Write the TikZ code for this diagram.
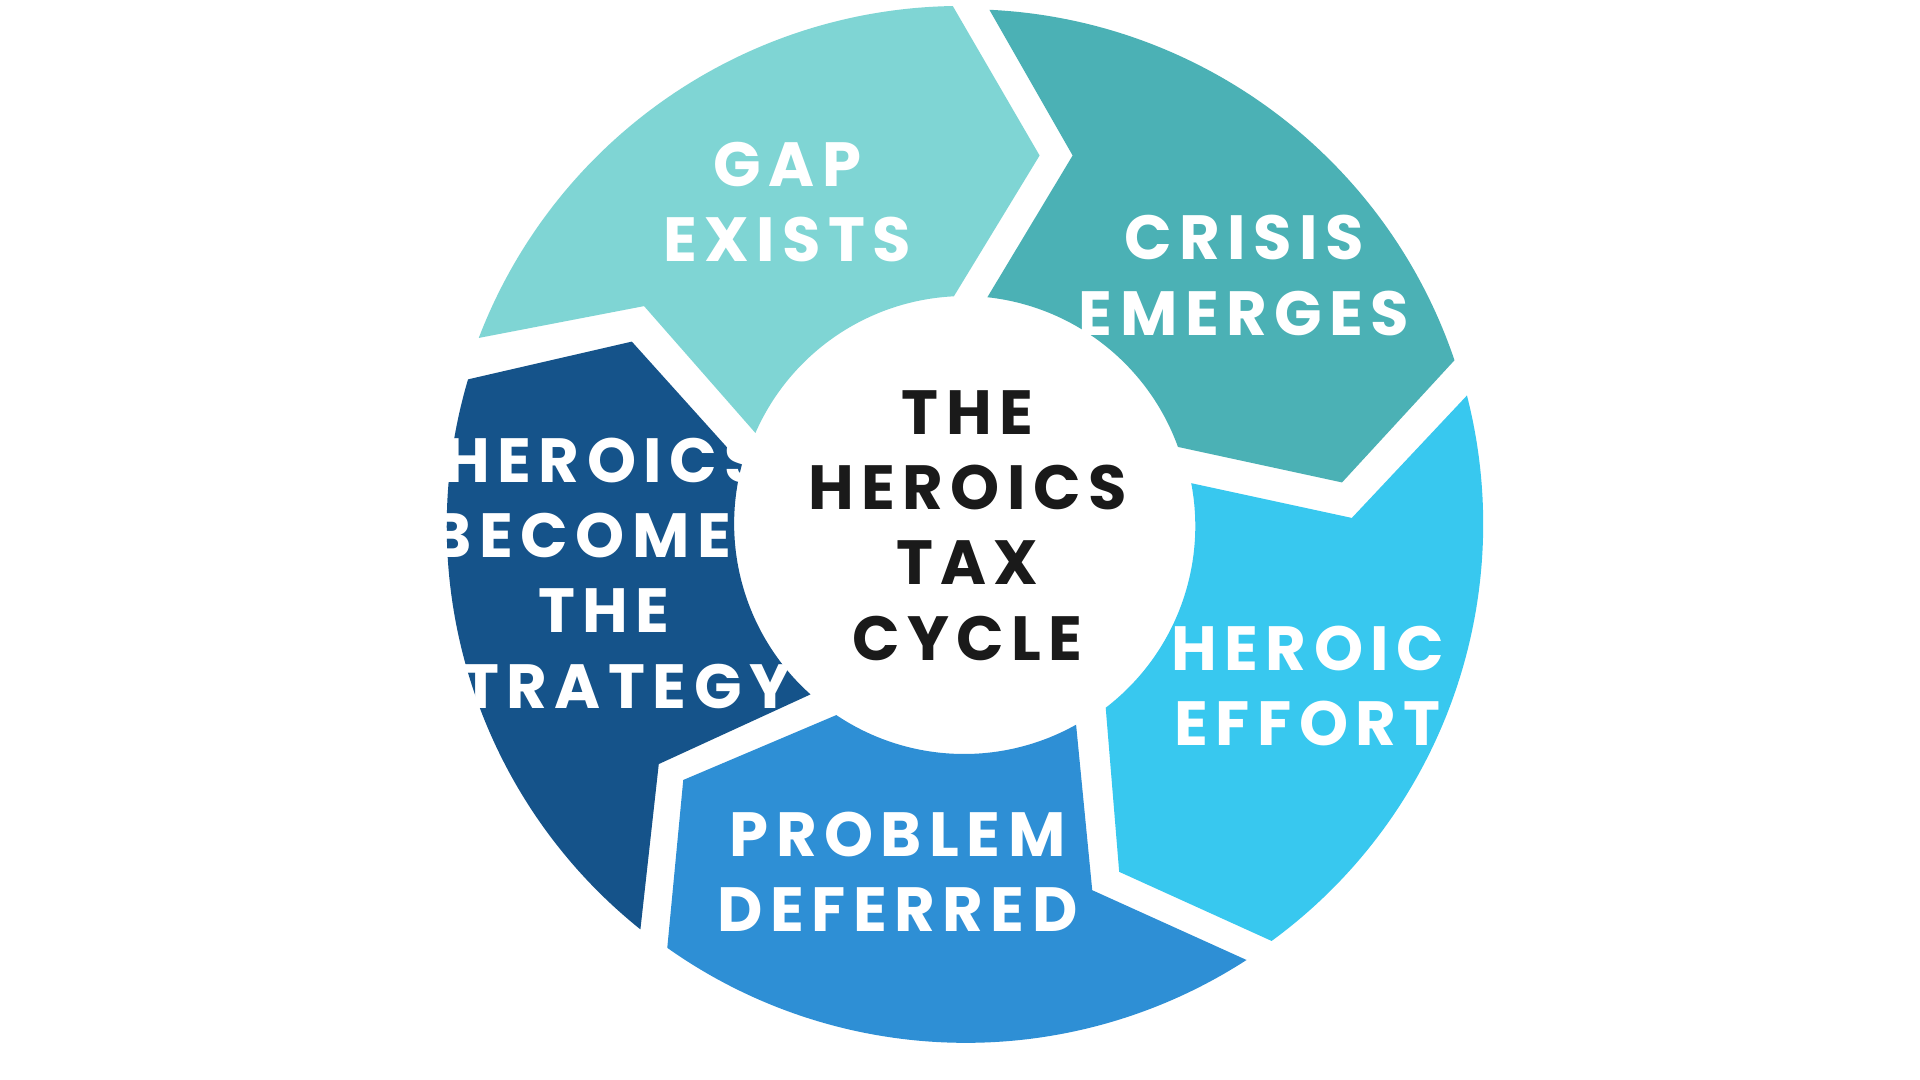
\documentclass[tikz,border=0pt]{standalone}
\usepackage{fontspec}
\setmainfont{Poppins}[UprightFont=* Bold, LetterSpace=12]
\definecolor{cA}{HTML}{7FD5D4}
\definecolor{cB}{HTML}{4BB1B5}
\definecolor{cC}{HTML}{38C8EF}
\definecolor{cD}{HTML}{2E8FD5}
\definecolor{cE}{HTML}{15538A}
\definecolor{ink}{HTML}{1A1A1A}
\begin{document}
\begin{tikzpicture}[x=0.01cm,y=0.01cm,
  lbl/.style={text=white,align=center,font=\fontsize{14.5}{17.5}\selectfont},
  ctr/.style={text=ink,align=center,font=\fontsize{14.5}{17.5}\selectfont}]
\useasboundingbox (0,0) rectangle (1568,882);
\fill[white] (0,0) rectangle (1568,882);
% y_up = 882 - y
\fill[cA] (391,606) arc[start angle=159.05,end angle=90.95,radius=422] -- (849,755) -- (779,640)
  arc[start angle=92.8,end angle=156.3,radius=187] -- (526,632) -- cycle;
\fill[cB] (808,874) arc[start angle=87.3,end angle=18.7,radius=422] -- (1096,488) -- (962,517)
  arc[start angle=19.9,end angle=83.8,radius=187] -- (876,755) -- cycle;
\fill[cC] (1198,559) arc[start angle=14.4,end angle=-53.8,radius=422] -- (914,170) -- (903,304)
  arc[start angle=-52.5,end angle=10.8,radius=187] -- (1104,459) -- cycle;
\fill[cD] (1018,98) arc[start angle=-57.1,end angle=-125.3,radius=422] -- (558,245) -- (683,298)
  arc[start angle=-123.9,end angle=-60.7,radius=187] -- (892,155) -- cycle;
\fill[cE] (523,123) arc[start angle=-128.7,end angle=-196.5,radius=422] -- (516,603) -- (606,503)
  arc[start angle=-195.1,end angle=-131.8,radius=187] -- (538,258) -- cycle;
\node[lbl] (ga) at (643,717) {GAP\\EXISTS};
\node[lbl] (cr) at (1016,657) {CRISIS\\EMERGES};
\node[lbl] (he) at (1068,322) {HEROIC\\EFFORT};
\node[lbl] (pd) at (733,170) {PROBLEM\\DEFERRED};
\node[lbl] (hb) at (493,414) {HEROICS\\BECOMES\\THE\\STRATEGY};
\node[ctr] (ct) at (790,453) {THE\\HEROICS\\TAX\\CYCLE};
\end{tikzpicture}
\end{document}
